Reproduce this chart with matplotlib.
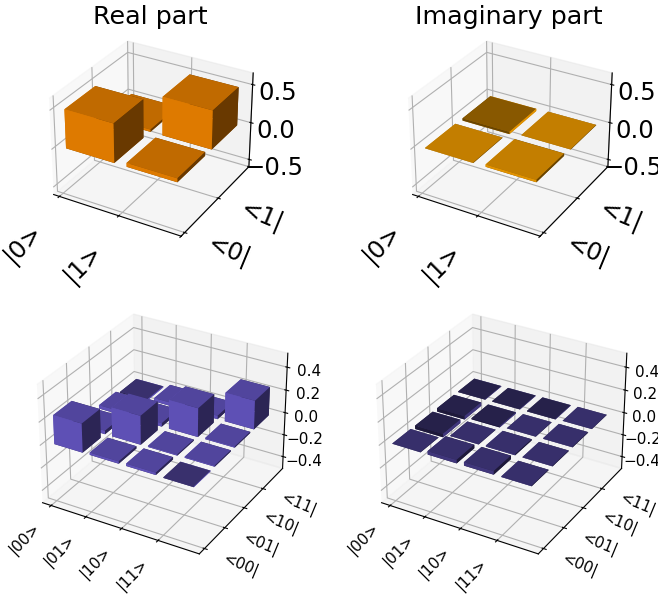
import numpy as np
import matplotlib
matplotlib.use("Agg")
import matplotlib.pyplot as plt

# density matrices (rows are x index, columns y index)
single_real = [[0.5, 0.03], [0.05, 0.5]]
single_imag = [[0.005, -0.03], [0.03, 0.005]]
two_real = [[0.25, 0.03, 0.03, -0.01],
            [0.02, 0.25, 0.03, 0.03],
            [0.02, 0.01, 0.25, 0.03],
            [-0.005, 0.01, 0.01, 0.25]]
two_imag = [[0.002, -0.03, -0.03, -0.005],
            [0.03, 0.002, -0.01, -0.005],
            [0.03, 0.01, 0.002, -0.005],
            [0.005, 0.005, 0.005, 0.002]]

kets1 = ["|0>", "|1>", ""]
bras1 = ["<0|", "<1|", ""]
kets2 = ["|00>", "|01>", "|10>", "|11>"]
bras2 = ["<00|", "<01|", "<10|", "<11|"]


def bars(ax, vals, color, kets, bras, lims, zlim, zticks, fs, start, pads, title=None):
    vals = np.array(vals)
    n = len(vals)
    xpos, ypos = np.meshgrid(np.arange(n) + start[0], np.arange(n) + start[1], indexing="ij")
    ax.bar3d(xpos.ravel(), ypos.ravel(), np.zeros(n * n), 0.8, 0.8, vals.ravel(), color=color)
    ticks = np.arange(len(kets)) + 0.5
    ax.set_xticks(ticks)
    ax.set_yticks(ticks)
    ax.set_xticklabels(kets, fontsize=fs, rotation=45, ha="right", va="top")
    ax.set_yticklabels(bras, fontsize=fs, rotation=-22.5, ha="left", va="center")
    ax.set_xlim(lims)
    ax.set_ylim(lims)
    ax.set_zlim(zlim)
    ax.set_zticks(zticks)
    ax.tick_params(axis="x", pad=pads[0])
    ax.tick_params(axis="y", pad=pads[1])
    ax.tick_params(axis="z", labelsize=fs, pad=pads[2])
    if title:
        ax.set_title(title, fontsize=18.3, y=1.045)


def place(cx, cy, size):
    # centre and side in pixels of the 658x601 picture
    return [(cx - size / 2) / 658, 1 - (cy + size / 2) / 601, size / 658, size / 601]


fig = plt.figure(figsize=(6.58, 6.01), dpi=100)
ax1 = fig.add_axes(place(150, 137, 227), projection="3d")
ax2 = fig.add_axes(place(509, 137, 227), projection="3d")
ax3 = fig.add_axes(place(161, 432, 279), projection="3d")
ax4 = fig.add_axes(place(500, 432, 279), projection="3d")

bars(ax1, single_real, "#fb8a00", kets1, bras1, (0.4, 2.5), (-0.6, 0.65), [-0.5, 0, 0.5], 17.5,
     (0.56, 0.53), (4, 4, 3), "Real part")
bars(ax2, single_imag, "#ffa500", kets1, bras1, (0.4, 2.5), (-0.6, 0.65), [-0.5, 0, 0.5], 17.5,
     (0.56, 0.53), (4, 4, 3), "Imaginary part")
bars(ax3, two_real, "#6a5acd", kets2, bras2, (0.25, 4.6), (-0.51, 0.52), [-0.4, -0.2, 0, 0.2, 0.4], 11,
     (0.51, 0.48), (0, 2.5, 1.5))
bars(ax4, two_imag, "#483d8b", kets2, bras2, (0.25, 4.6), (-0.51, 0.52), [-0.4, -0.2, 0, 0.2, 0.4], 11,
     (0.48, 0.48), (0, 2.5, 1))

fig.savefig("out.png", dpi=100)
